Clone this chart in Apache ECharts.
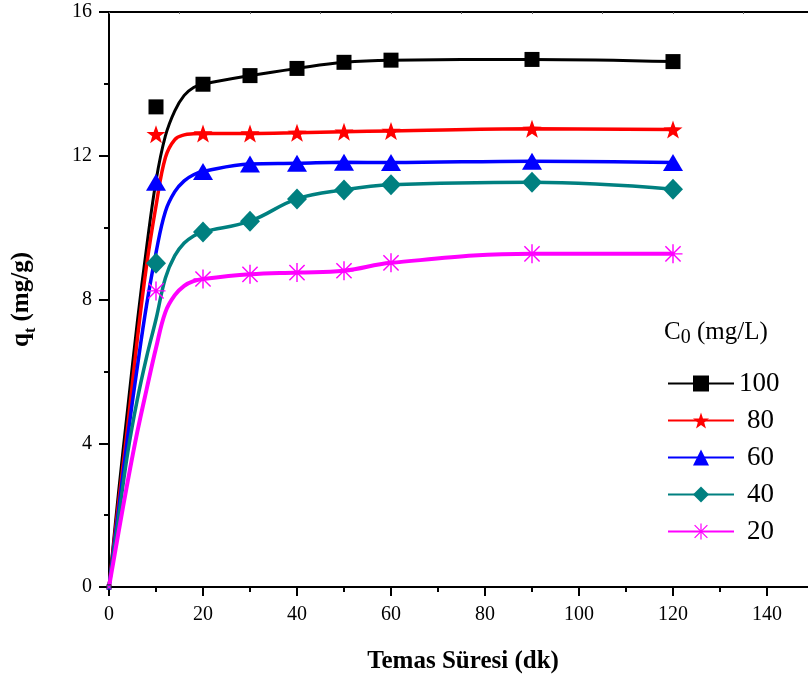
<!DOCTYPE html>
<html>
<head>
<meta charset="utf-8">
<script src="https://cdn.jsdelivr.net/npm/echarts@6/dist/echarts.min.js"></script>
<style>
  html, body { margin: 0; padding: 0; background: #fff; }
  #chart { width: 808px; height: 685px; }
</style>
</head>
<body>
<div id="chart"></div>
<script>
// Initial dye concentrations C0 (mg/L), one series each
const concentrations = ['100', '80', '60', '40', '20'];

// Sampling times (min) and measured uptake q_t (mg/g)
const sampleTimes = [0, 10, 20, 30, 40, 50, 60, 90, 120];
const q100 = [0, 13.36, 13.99, 14.23, 14.43, 14.60, 14.66, 14.68, 14.62];
const q80  = [0, 12.60, 12.62, 12.62, 12.64, 12.67, 12.69, 12.75, 12.73];
const q60  = [0, 11.26, 11.56, 11.77, 11.79, 11.82, 11.81, 11.85, 11.81];
const q40  = [0, 9.01, 9.88, 10.18, 10.80, 11.05, 11.19, 11.26, 11.07];
const q20  = [0, 8.24, 8.57, 8.70, 8.75, 8.80, 9.02, 9.27, 9.27];

// Fitted kinetic curves, sampled along contact time
const curveTimes = [0, 2, 4, 6, 8, 10, 12, 14, 16, 18, 20, 30, 40, 50, 60, 90, 120];
const fit100 = [0, 2.6, 5.0, 7.35, 9.45, 11.3, 12.55, 13.25, 13.68, 13.9, 13.99, 14.23, 14.43, 14.60, 14.66, 14.68, 14.62];
const fit80  = [0, 2.3, 4.5, 6.87, 8.95, 10.6, 11.95, 12.45, 12.58, 12.61, 12.62, 12.62, 12.64, 12.67, 12.69, 12.75, 12.73];
const fit60  = [0, 2.1, 4.2, 6.1, 7.85, 9.3, 10.45, 11.0, 11.3, 11.47, 11.56, 11.77, 11.79, 11.82, 11.81, 11.85, 11.81];
const fit40  = [0, 1.9, 3.75, 5.2, 6.4, 7.45, 8.6, 9.22, 9.57, 9.77, 9.88, 10.18, 10.80, 11.05, 11.19, 11.26, 11.07];
const fit20  = [0, 1.5, 2.95, 4.3, 5.5, 6.65, 7.65, 8.12, 8.38, 8.51, 8.57, 8.70, 8.75, 8.80, 9.02, 9.27, 9.27];

// Axis ticks
const yTicks = [0, 4, 8, 12, 16];
const xTickStep = 20;

const measured = [q100, q80, q60, q40, q20];
const fitted = [fit100, fit80, fit60, fit40, fit20];

const colors = ['#000000', '#ff0000', '#0000ff', '#008080', '#ff00ff'];
const lineWidths = [3, 3.5, 3.5, 3.5, 4];

const starPath = 'path://M10,0L12.35,6.76L19.51,6.91L13.8,11.24L15.88,18.09L10,14L4.12,18.09L6.2,11.24L0.49,6.91L7.65,6.76Z';
const asteriskPath = 'path://M9.25,0h1.5v20h-1.5z M0,9.25h20v1.5h-20z M2.53,1.47L18.53,17.47L17.47,18.53L1.47,2.53Z M17.47,1.47L18.53,2.53L2.53,18.53L1.47,17.47Z';
const symbols = ['rect', starPath, 'triangle', 'diamond', asteriskPath];
const symbolSizes = [[15, 15], [19, 18], [20, 17], [20, 21], [19, 19]];

const serif = 'Liberation Serif';

const pairs = (xs, ys) => xs.map((x, i) => [x, ys[i]]);

const curveSeries = concentrations.map((c, i) => ({
  type: 'line',
  name: c,
  data: pairs(curveTimes, fitted[i]),
  smooth: 0.4,
  showSymbol: false,
  symbol: symbols[i],
  symbolSize: symbolSizes[i],
  lineStyle: { color: colors[i], width: lineWidths[i] },
  itemStyle: { color: colors[i] },
  z: 2,
  animation: false
}));

const pointSeries = concentrations.map((c, i) => ({
  type: 'scatter',
  name: c,
  data: pairs(sampleTimes, measured[i]),
  symbol: symbols[i],
  symbolSize: (v, p) => (p.dataIndex === 0 ? [5, 5] : symbolSizes[i]),
  itemStyle: { color: colors[i], opacity: 1 },
  z: 3,
  animation: false
}));

const chart = echarts.init(document.getElementById('chart'), null, { renderer: 'canvas' });

chart.setOption({
  backgroundColor: '#ffffff',
  animation: false,
  title: {
    text: '{c|C}{s|0}{u| (mg/L)}',
    left: 664,
    top: 316,
    padding: 0,
    textStyle: {
      fontFamily: serif,
      fontWeight: 'normal',
      rich: {
        c: { fontFamily: serif, fontWeight: 'normal', fontSize: 25, color: '#000', lineHeight: 32, verticalAlign: 'middle' },
        s: { fontFamily: serif, fontWeight: 'normal', fontSize: 20, color: '#000', lineHeight: 32, verticalAlign: 'bottom' },
        u: { fontFamily: serif, fontWeight: 'normal', fontSize: 25, color: '#000', lineHeight: 32, verticalAlign: 'middle' }
      }
    }
  },
  legend: {
    orient: 'vertical',
    left: 667,
    top: 370,
    padding: 0,
    itemWidth: 66,
    itemHeight: 20,
    itemGap: 10,
    selectedMode: false,
    textStyle: { fontFamily: serif, fontSize: 27, color: '#000' },
    data: concentrations.map((c, i) => (i === 0 ? { name: c } : { name: c, textStyle: { padding: [0, 0, 0, 8] } }))
  },
  grid: { left: 109, top: 12, width: 752, height: 575, outerBoundsMode: 'none', containLabel: false },
  xAxis: [
    {
      type: 'value',
      min: 0,
      max: 160,
      interval: xTickStep,
      position: 'bottom',
      name: 'Temas Süresi (dk)',
      nameLocation: 'middle',
      nameGap: 62,
      nameTextStyle: { fontFamily: serif, fontWeight: 'bold', fontSize: 25, color: '#000', padding: [0, 44, 0, 0] },
      axisLine: { onZero: false, lineStyle: { color: '#000', width: 2 } },
      axisTick: { inside: false, length: 9, lineStyle: { color: '#000', width: 2 } },
      minorTick: { show: true, splitNumber: 2, length: 5, lineStyle: { color: '#000', width: 2 } },
      axisLabel: { fontFamily: serif, fontSize: 20, color: '#000', margin: 18, showMaxLabel: false },
      splitLine: { show: false }
    },
    {
      type: 'value',
      min: 0,
      max: 160,
      interval: 15,
      position: 'top',
      axisLine: { onZero: false, lineStyle: { color: '#000', width: 2 } },
      axisTick: { inside: true, length: 2, lineStyle: { color: '#666', width: 1 } },
      axisLabel: { show: false },
      splitLine: { show: false }
    }
  ],
  yAxis: {
    type: 'value',
    min: yTicks[0],
    max: yTicks[yTicks.length - 1],
    interval: yTicks[1] - yTicks[0],
    name: '{q|q}{t|t}{u| (mg/g)}',
    nameLocation: 'middle',
    nameGap: 70,
    nameRotate: 90,
    nameTextStyle: {
      rich: {
        q: { fontFamily: serif, fontWeight: 'bold', fontSize: 25, color: '#000', lineHeight: 34, verticalAlign: 'middle' },
        t: { fontFamily: serif, fontWeight: 'bold', fontSize: 16, color: '#000', lineHeight: 34, verticalAlign: 'bottom' },
        u: { fontFamily: serif, fontWeight: 'bold', fontSize: 25, color: '#000', lineHeight: 34, verticalAlign: 'middle' }
      }
    },
    axisLine: { show: true, onZero: false, lineStyle: { color: '#000', width: 2 } },
    axisTick: { show: true, inside: false, length: 10, lineStyle: { color: '#000', width: 2 } },
    minorTick: { show: true, splitNumber: 2, length: 5, lineStyle: { color: '#000', width: 2 } },
    axisLabel: { fontFamily: serif, fontSize: 20, color: '#000', margin: 17 },
    splitLine: { show: false }
  },
  series: curveSeries.concat(pointSeries)
});
</script>
</body>
</html>
